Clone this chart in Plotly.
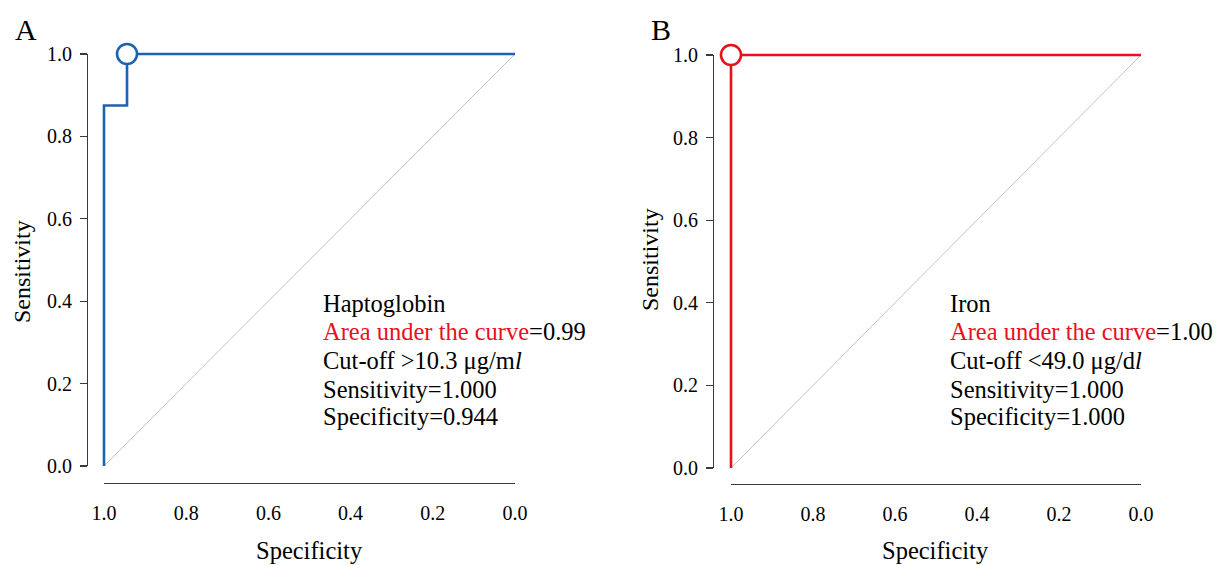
import plotly.graph_objects as go

# ---------------- data ----------------
spec_A = [1.0, 1.0, 0.944, 0.944, 0.0]
sens_A = [0.0, 0.875, 0.875, 1.0, 1.0]
cut_A = (0.944, 1.0)

spec_B = [1.0, 1.0, 0.0]
sens_B = [0.0, 1.0, 1.0]
cut_B = (1.0, 1.0)

ref_spec = [1.0, 0.0]
ref_sens = [0.0, 1.0]

tick_vals = [0.0, 0.2, 0.4, 0.6, 0.8, 1.0]
tick_text = ["0.0", "0.2", "0.4", "0.6", "0.8", "1.0"]

text_A = ["Haptoglobin",
          "<span style='color:#e8101c'>Area under the curve</span>=0.99",
          "Cut-off &gt;10.3 μg/m<i>l</i>",
          "Sensitivity=1.000",
          "Specificity=0.944"]
text_B = ["Iron",
          "<span style='color:#e8101c'>Area under the curve</span>=1.00",
          "Cut-off &lt;49.0 μg/d<i>l</i>",
          "Sensitivity=1.000",
          "Specificity=1.000"]

# ---------------- layout geometry (page pixels) ----------------
W, H = 1218, 565
FONT = "Liberation Serif, Times New Roman, serif"
BLUE = "#1c63b2"
RED = "#e8101c"
AXC = "#3a3a3a"
LINE_Y = [303, 331, 360, 389, 417]

panels = [
    dict(x1=104, x0=515, y1=54, y0=466, yline=87, xline=483,
         color=BLUE, spec=spec_A, sens=sens_A, cut=cut_A, text=text_A,
         tx=321, letter="A", lx=26, sx=22, sy=272),
    dict(x1=731, x0=1141, y1=55, y0=468, yline=713, xline=484,
         color=RED, spec=spec_B, sens=sens_B, cut=cut_B, text=text_B,
         tx=948, letter="B", lx=661, sx=650, sy=260),
]

def fx(p):
    return p / W

def fy(p):
    return 1 - p / H

fig = go.Figure()
layout = dict()
annotations = []
PAD = 16

for i, P in enumerate(panels):
    dn = 2 * i + 1      # data axes index
    vn = 2 * i + 2      # display axes index
    xs = "" if dn == 1 else str(dn)
    xpu = (P["x0"] - P["x1"])
    ypu = (P["y0"] - P["y1"])
    # data axes: padded so lines are not clipped
    layout[f"xaxis{xs}"] = dict(
        domain=[fx(P["x1"] - PAD), fx(P["x0"] + PAD)],
        range=[1 + PAD / xpu, -PAD / xpu], visible=False, anchor=f"y{xs}",
        automargin=False)
    layout[f"yaxis{xs}"] = dict(
        domain=[fy(P["y0"] + PAD), fy(P["y1"] - PAD)],
        range=[-PAD / ypu, 1 + PAD / ypu], visible=False, anchor=f"x{xs}",
        automargin=False)
    # display axes
    layout[f"xaxis{vn}"] = dict(
        domain=[fx(P["x1"]), fx(P["x0"])], range=[1, 0],
        anchor="free", position=fy(P["xline"]), automargin=False,
        showline=True, linecolor=AXC, linewidth=1.3,
        showgrid=False, zeroline=False, ticks="",
        tickvals=tick_vals, ticktext=tick_text, ticklabelstandoff=12,
        tickfont=dict(family=FONT, size=20, color="black"))
    layout[f"yaxis{vn}"] = dict(
        domain=[fy(P["y0"]), fy(P["y1"])], range=[0, 1],
        anchor="free", position=fx(P["yline"]), automargin=False,
        showline=True, linecolor=AXC, linewidth=1.3,
        showgrid=False, zeroline=False, ticks="outside", ticklen=7,
        tickcolor=AXC, tickwidth=1.3, ticklabelstandoff=4,
        tickvals=tick_vals, ticktext=tick_text,
        tickfont=dict(family=FONT, size=20, color="black"))

    # reference diagonal
    fig.add_trace(go.Scatter(x=ref_spec, y=ref_sens, mode="lines",
                             line=dict(color="#c4c4c4", width=1),
                             xaxis=f"x{xs}", yaxis=f"y{xs}",
                             hoverinfo="skip", showlegend=False))
    # ROC curve
    fig.add_trace(go.Scatter(x=P["spec"], y=P["sens"], mode="lines",
                             line=dict(color=P["color"], width=2.6),
                             xaxis=f"x{xs}", yaxis=f"y{xs}",
                             showlegend=False))
    # cut-off point
    fig.add_trace(go.Scatter(x=[P["cut"][0]], y=[P["cut"][1]], mode="markers",
                             marker=dict(symbol="circle", size=20, color="white",
                                         line=dict(color=P["color"], width=2.6)),
                             xaxis=f"x{xs}", yaxis=f"y{xs}", cliponaxis=False,
                             showlegend=False))
    # invisible trace to register display axes
    fig.add_trace(go.Scatter(x=[0.5], y=[0.5], mode="markers",
                             marker=dict(opacity=0), xaxis=f"x{vn}", yaxis=f"y{vn}",
                             hoverinfo="skip", showlegend=False))

    # stats text, one annotation per line
    for line, ly in zip(P["text"], LINE_Y):
        annotations.append(dict(
            xref="paper", yref="paper", x=fx(P["tx"]), y=fy(ly),
            xanchor="left", yanchor="middle", align="left", showarrow=False,
            text=line, font=dict(family=FONT, size=24.5, color="black")))
    # panel letter
    annotations.append(dict(
        xref="paper", yref="paper", x=fx(P["lx"]), y=fy(30),
        xanchor="center", yanchor="middle", showarrow=False,
        text=P["letter"], font=dict(family=FONT, size=30, color="black")))
    # axis titles
    annotations.append(dict(
        xref="paper", yref="paper", x=fx((P["x1"] + P["x0"]) / 2), y=fy(550),
        xanchor="center", yanchor="middle", showarrow=False,
        text="Specificity", font=dict(family=FONT, size=24.5, color="black")))
    annotations.append(dict(
        xref="paper", yref="paper", x=fx(P["sx"]), y=fy(P["sy"]),
        xanchor="center", yanchor="middle", showarrow=False, textangle=-90,
        text="Sensitivity", font=dict(family=FONT, size=24, color="black")))

fig.update_layout(
    template="none",
    width=W, height=H,
    margin=dict(l=0, r=0, t=0, b=0),
    paper_bgcolor="white", plot_bgcolor="rgba(0,0,0,0)",
    annotations=annotations,
    showlegend=False,
    hovermode=False,
    **layout,
)

fig.write_html(
    "out.html",
    config={"displayModeBar": False, "staticPlot": True},
    post_script="document.body.style.margin='0';document.body.style.overflow='hidden';",
)
